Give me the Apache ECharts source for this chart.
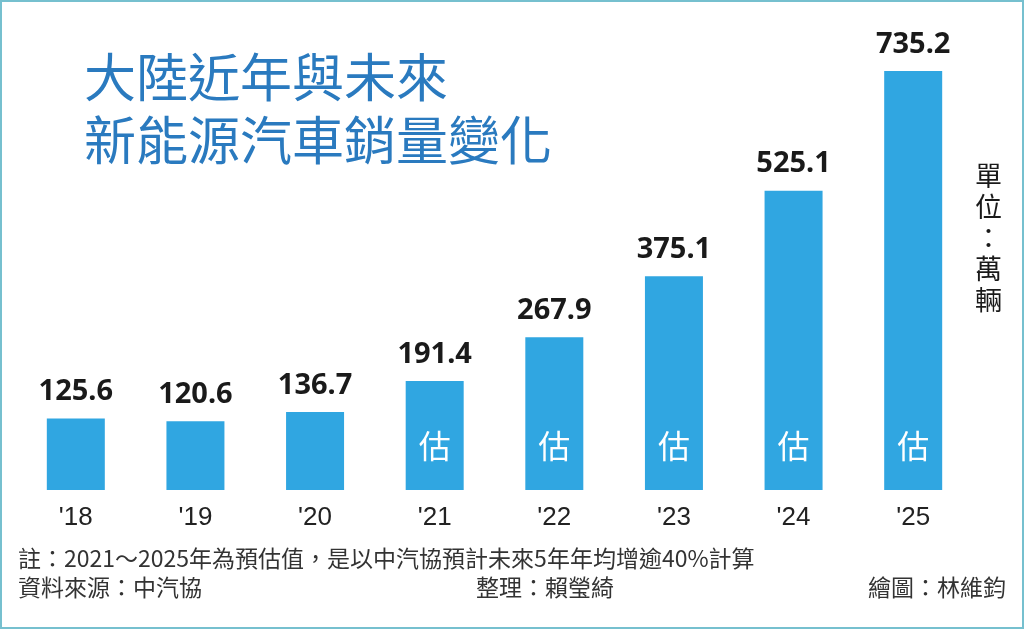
<!DOCTYPE html>
<html>
<head>
<meta charset="utf-8">
<script src="https://cdn.jsdelivr.net/npm/echarts@6/dist/echarts.min.js"></script>
<style>
  html, body { margin: 0; padding: 0; background: #fff; }
  #chart { width: 1024px; height: 629px; box-sizing: border-box; border: 2px solid #76c0cf; }
</style>
</head>
<body>
<div id="chart"></div>
<script>
// 大陸新能源汽車銷量（萬輛），2021 起為預估
var years = ["'18", "'19", "'20", "'21", "'22", "'23", "'24", "'25"];
var sales = [125.6, 120.6, 136.7, 191.4, 267.9, 375.1, 525.1, 735.2];
var estimated = [false, false, false, true, true, true, true, true];

var cjk = '"Noto Sans CJK TC", "Noto Sans CJK SC", sans-serif';

var chart = echarts.init(document.getElementById('chart'));
chart.setOption({
  animation: false,
  grid: { left: 14, right: 49, top: 48, bottom: 137 },
  xAxis: {
    type: 'category',
    data: years,
    axisLine: { show: false },
    axisTick: { show: false },
    axisLabel: {
      color: '#222',
      fontSize: 26,
      fontFamily: 'Liberation Sans, Arial, sans-serif',
      margin: 15
    }
  },
  yAxis: {
    type: 'value',
    min: 0,
    max: 772,
    show: false
  },
  series: [
    {
      type: 'bar',
      data: sales,
      barWidth: 58,
      itemStyle: { color: '#30a6e1' },
      label: {
        show: true,
        position: 'top',
        distance: 12,
        color: '#1a1a1a',
        fontSize: 29,
        fontWeight: 'bold',
        fontFamily: '"Noto Sans", sans-serif'
      }
    },
    {
      // transparent copy, only used for the 估 mark inside the bars
      type: 'bar',
      data: sales,
      barWidth: 58,
      barGap: '-100%',
      itemStyle: { color: 'rgba(0,0,0,0)' },
      silent: true,
      label: {
        show: true,
        position: 'insideBottom',
        distance: 28,
        color: '#ffffff',
        fontSize: 32,
        fontFamily: cjk,
        formatter: function (p) { return estimated[p.dataIndex] ? '估' : ''; }
      }
    }
  ],
  graphic: [
    {
      type: 'text', left: 82, top: 44,
      style: {
        text: '大陸近年與未來\n新能源汽車銷量變化',
        fill: '#2a7abf', font: '52px ' + cjk, lineHeight: 63
      }
    },
    {
      type: 'text', left: 973, top: 158,
      style: {
        text: '單\n位\n：\n萬\n輛',
        fill: '#1a1a1a', font: '27px ' + cjk, lineHeight: 31
      }
    },
    {
      type: 'text', left: 16, top: 545,
      style: {
        text: '註：2021～2025年為預估值，是以中汽協預計未來5年年均增逾40%計算',
        fill: '#333', font: '23px ' + cjk
      }
    },
    {
      type: 'text', left: 16, top: 574,
      style: { text: '資料來源：中汽協', fill: '#333', font: '23px ' + cjk }
    },
    {
      type: 'text', left: 474, top: 574,
      style: { text: '整理：賴瑩綺', fill: '#333', font: '23px ' + cjk }
    },
    {
      type: 'text', right: 16, top: 574,
      style: { text: '繪圖：林維鈞', fill: '#333', font: '23px ' + cjk }
    }
  ]
});
</script>
</body>
</html>
